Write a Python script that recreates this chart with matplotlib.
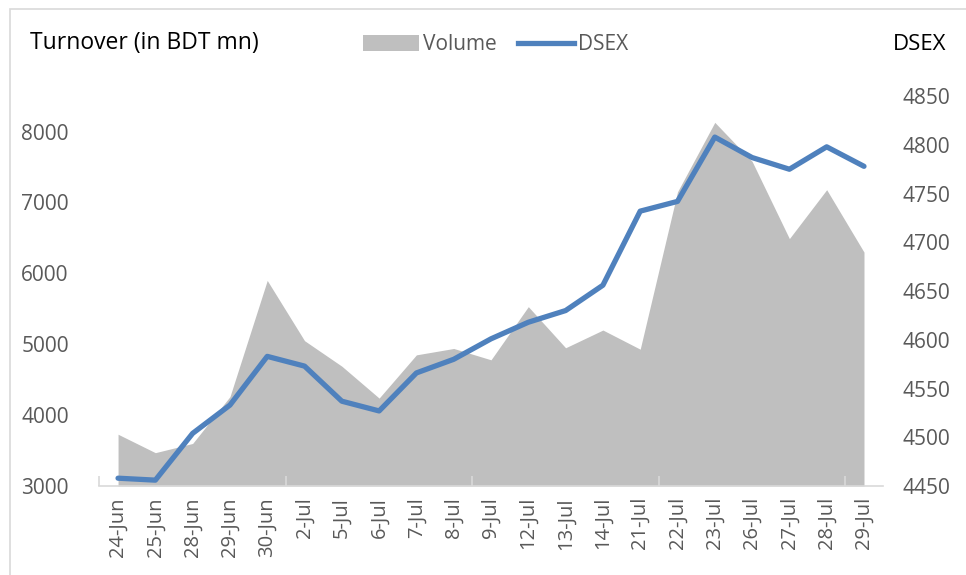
import matplotlib.pyplot as plt
from matplotlib.patches import Patch, Rectangle
from matplotlib.lines import Line2D
from matplotlib.ticker import FixedLocator

plt.rcParams['font.family'] = ['Open Sans', 'DejaVu Sans']

dates = ['24-Jun', '25-Jun', '28-Jun', '29-Jun', '30-Jun', '2-Jul', '5-Jul', '6-Jul',
         '7-Jul', '8-Jul', '9-Jul', '12-Jul', '13-Jul', '14-Jul', '21-Jul', '22-Jul',
         '23-Jul', '26-Jul', '27-Jul', '28-Jul', '29-Jul']
volume = [3730, 3470, 3600, 4260, 5900, 5050, 4690, 4240, 4850, 4940, 4780, 5530,
          4950, 5200, 4930, 7150, 8130, 7580, 6490, 7180, 6300]
dsex = [4458, 4456, 4504, 4533, 4583, 4573, 4537, 4527, 4566, 4580, 4601, 4618,
        4630, 4656, 4732, 4742, 4808, 4787, 4775, 4798, 4778]

grey = '#595959'
x = list(range(len(dates)))

fig = plt.figure(figsize=(9.66, 5.75), dpi=100)
# light chart border (only top and left edges fall inside the image)
fig.patches.append(Rectangle((10 / 966, -0.1), 1.2, 1.1 - 9 / 575, transform=fig.transFigure,
                             fill=False, edgecolor='#d9d9d9', linewidth=1.2))
ax = fig.add_axes([0.1029, 0.1548, 0.8108, 0.678])
ax.fill_between(x, volume, 3000, color='#bfbfbf', linewidth=0)
ax.set_xlim(-0.5, len(dates) - 0.5)
ax.set_ylim(3000, 8500)
ax.set_yticks([3000, 4000, 5000, 6000, 7000, 8000])
ax.set_xticks(x)
ax.set_xticklabels(dates, rotation=90)
ax.tick_params(axis='x', which='major', length=0, pad=8, labelsize=14.5, colors=grey)
ax.xaxis.set_minor_locator(FixedLocator([-0.5, 4.5, 9.5, 14.5, 19.5]))
ax.tick_params(axis='x', which='minor', direction='in', length=7, color='#d9d9d9', width=1.2)
ax.tick_params(axis='y', length=0, pad=22, labelsize=15, labelcolor=grey)
for s in ['top', 'right', 'left']:
    ax.spines[s].set_visible(False)
ax.spines['bottom'].set_color('#d9d9d9')
ax.spines['bottom'].set_linewidth(1.2)

ax2 = ax.twinx()
ax2.plot(x, dsex, color='#4f81bd', linewidth=3.8, solid_capstyle='round')
ax2.set_ylim(4450, 4850)
ax2.set_yticks(range(4450, 4851, 50))
ax2.tick_params(axis='y', length=0, pad=14, labelsize=15, labelcolor=grey)
for s in ['top', 'right', 'left', 'bottom']:
    ax2.spines[s].set_visible(False)

fig.text(0.031, 0.925, 'Turnover (in BDT mn)', fontsize=16.5, va='center', ha='left', color='black')
fig.text(0.980, 0.922, 'DSEX', fontsize=16, va='center', ha='right', color='black')

handles = [Patch(facecolor='#bfbfbf', edgecolor='none'),
           Line2D([0], [0], color='#4f81bd', linewidth=3.8)]
fig.legend(handles, ['Volume', 'DSEX'], loc='center', bbox_to_anchor=(0.513, 0.922),
           ncol=2, frameon=False, fontsize=15, labelcolor=grey, handlelength=2.7,
           handletextpad=0.2, columnspacing=1.0, handleheight=0.8)

fig.savefig('out.png', dpi=100)
